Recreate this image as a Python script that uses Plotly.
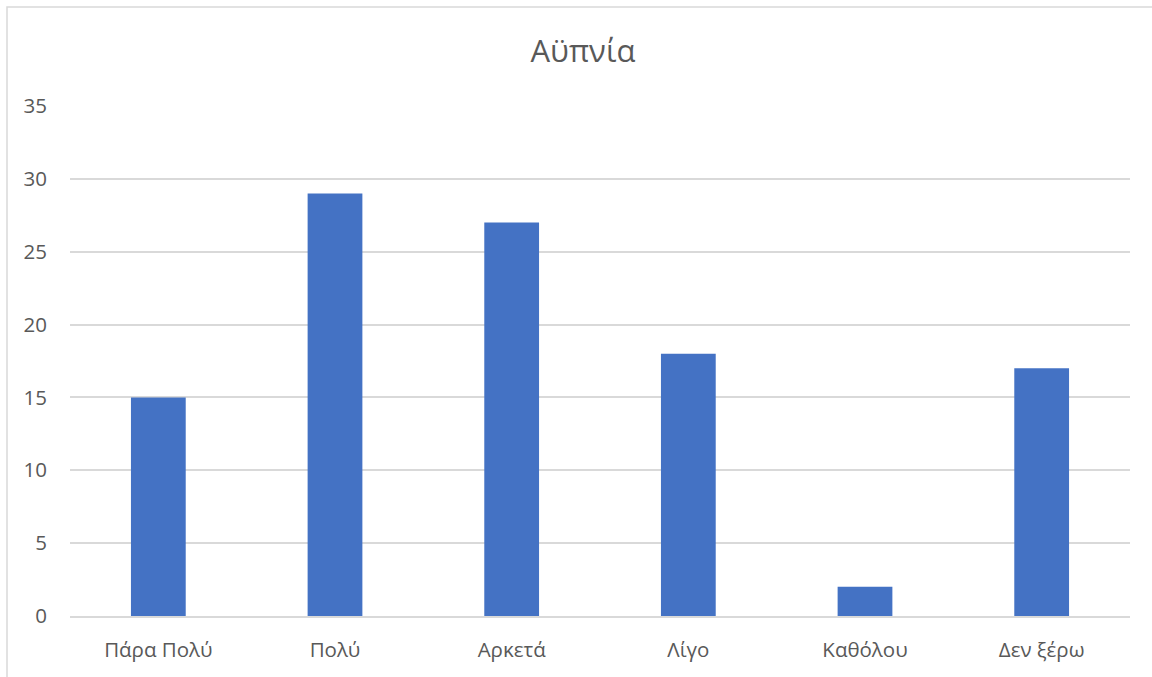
import plotly.graph_objects as go

categories = ["Πάρα Πολύ", "Πολύ", "Αρκετά", "Λίγο", "Καθόλου", "Δεν ξέρω"]
values = [15, 29, 27, 18, 2, 17]
y_ticks = [0, 5, 10, 15, 20, 25, 30, 35]

TEXT = "#595959"
GRID = "#D9D9D9"
BAR = "#4472C4"
FONT = "Open Sans, Noto Sans, sans-serif"

fig = go.Figure(
    go.Bar(x=categories, y=values, marker=dict(color=BAR, line=dict(width=0)))
)

fig.update_layout(
    width=1152,
    height=677,
    margin=dict(l=70, r=22, t=106, b=61),
    paper_bgcolor="white",
    plot_bgcolor="white",
    bargap=0.69,
    showlegend=False,
    font=dict(family=FONT, color=TEXT, size=20),
    title=dict(
        text="Αϋπνία",
        x=0.506,
        xanchor="center",
        y=1 - 51 / 677,
        yanchor="middle",
        font=dict(size=31, color=TEXT, family=FONT),
    ),
    shapes=[
        dict(
            type="rect", xref="paper", yref="paper",
            x0=-63 / 1060, x1=1.2, y0=-0.3, y1=1 + 99 / 510.5,
            line=dict(color=GRID, width=1.5), fillcolor="rgba(0,0,0,0)",
            layer="below",
        )
    ],
)

fig.update_xaxes(
    showgrid=False,
    showline=True,
    linecolor=GRID,
    linewidth=1.5,
    ticks="",
    ticklabelstandoff=15,
    tickfont=dict(size=20.5, color=TEXT),
)
fig.update_yaxes(
    range=[0, 35],
    tickvals=y_ticks,
    showgrid=True,
    gridcolor=GRID,
    gridwidth=1.5,
    zeroline=False,
    showline=False,
    ticks="",
    ticklabelstandoff=22,
    tickfont=dict(size=20.5, color=TEXT),
)

fig.write_html("out.html")
